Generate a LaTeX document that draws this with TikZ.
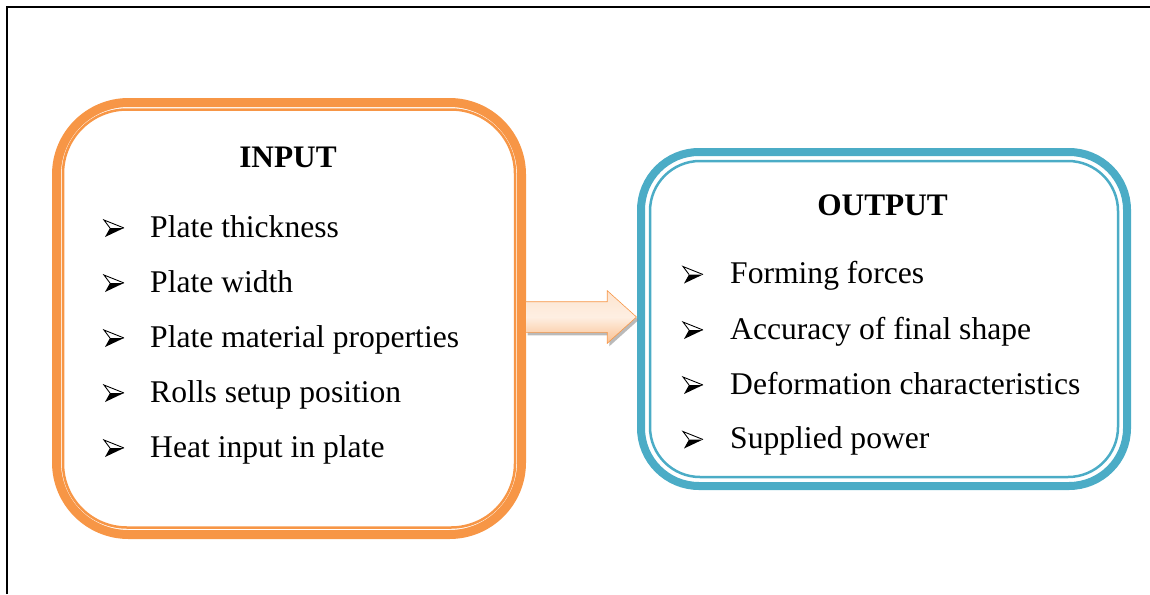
\documentclass[tikz,border=0pt]{standalone}
\usepackage{fontspec}
\setmainfont{Liberation Serif}
\usetikzlibrary{shapes.arrows,shadows}
\definecolor{orng}{HTML}{F79646}
\definecolor{blu}{HTML}{4BACC6}
\definecolor{peach}{HTML}{FDE4CF}
\definecolor{peachd}{HTML}{FAC090}
\tikzset{
  outerbox/.style={draw, line width=9pt, rounded corners=72pt, minimum width=465pt, minimum height=432pt, inner sep=0pt},
  innerbox/.style={draw, line width=2.5pt, rounded corners=64pt, inner sep=0pt},
  item/.style={anchor=base west, inner sep=0pt, font=\fontsize{31.6}{36}\selectfont},
  head/.style={anchor=base, inner sep=0pt, font=\fontsize{31.3}{36}\selectfont\bfseries},
  bul/.pic={
    \fill[black] (-4,0) -- (10,0) -- (-9,9) -- cycle;
    \draw[black, line width=0.9pt, line join=miter] (-4,0) -- (-10,-8) -- (10,0);
  }
}
\begin{document}
\begin{tikzpicture}[x=1pt,y=-1pt]
\useasboundingbox (0,0) rectangle (1150,594);
% frame
\draw[line width=2pt] (7,594) -- (7,7) -- (1150,7);
% input box
\node[outerbox, draw=orng] (inO) at (289,318.5) {};
\node[innerbox, draw=orng, minimum width=452pt, minimum height=418pt] (inI) at (289,318.5) {};
% output box
\node[outerbox, draw=blu, line width=8pt, rounded corners=58pt, minimum width=486pt, minimum height=334pt] (outO) at (884,319) {};
\node[innerbox, draw=blu, rounded corners=50pt, minimum width=468pt, minimum height=316pt] (outI) at (884,319) {};
% block arrow
\node[single arrow, draw=orng, line width=0.6pt, top color=peach, bottom color=peachd, middle color=peach!60!white,
      minimum height=111pt, minimum width=52pt, single arrow head extend=11pt, single arrow tip angle=84, inner sep=0pt,
      drop shadow={shadow xshift=2pt, shadow yshift=-3pt, fill=black!45, opacity=0.6}] (arr) at (572.5,317) {\rule{0pt}{30pt}};
% headings
\node[head] (hin) at (288,167) {INPUT};
\node[head] (hout) at (882.5,215) {OUTPUT};
% input items
\foreach \t/\y [count=\i] in {Plate thickness/237, Plate width/292, Plate material properties/347, Rolls setup position/402, Heat input in plate/457}{
  \pic at (114,\y-9) {bul};
  \node[item] (i\i) at (150,\y) {\t};
}
% output items
\foreach \t/\y [count=\i] in {Forming forces/283.5, Accuracy of final shape/339, Deformation characteristics/394, Supplied power/448.5}{
  \pic at (693,\y-9) {bul};
  \node[item] (o\i) at (730,\y) {\t};
}
\end{tikzpicture}
\end{document}
